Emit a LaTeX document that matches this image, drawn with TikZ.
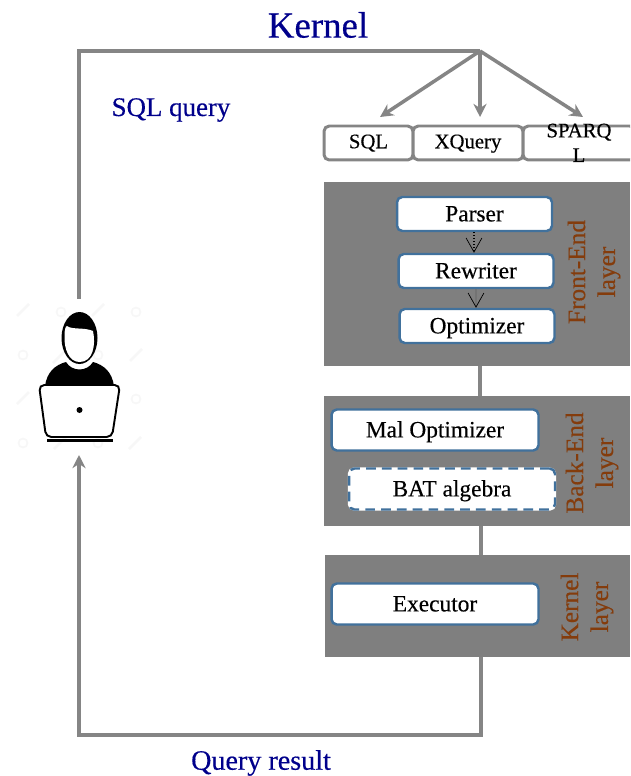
\documentclass[tikz,border=0pt]{standalone}
\usepackage{fontspec}
\setmainfont{Liberation Serif}[FakeBold=0.35]
\usetikzlibrary{arrows.meta}
\definecolor{layergray}{HTML}{7F7F7F}
\definecolor{linkgray}{HTML}{858585}
\definecolor{boxblue}{HTML}{41719C}
\definecolor{titleblue}{HTML}{00008B}
\definecolor{layerbrown}{HTML}{843C0C}
\tikzset{
    link/.style={draw=linkgray, line width=2pt},
    linkarrow/.style={link, -{Stealth[length=7.5pt,width=7.5pt]}},
    thinarrow/.style={-{Straight Barb[length=8pt,width=9pt,line width=0.4pt,color=black]}, line width=0.7pt},
    langbox/.style={draw=linkgray, line width=1.7pt, rounded corners=3pt, fill=white, minimum height=0.68cm, inner sep=0pt, text height=8pt, text depth=2pt, font=\fontsize{11.8}{14}\selectfont},
    stagebox/.style={draw=boxblue, line width=1.4pt, rounded corners=3pt, fill=white, minimum height=0.68cm, inner sep=0pt, text height=9pt, text depth=0.6pt, font=\fontsize{13.3}{15}\selectfont},
    layerbox/.style={fill=layergray, inner sep=0pt},
    layername/.style={text=layerbrown, rotate=90, align=center, inner sep=0pt, font=\fontsize{14.4}{17}\selectfont},
    titletext/.style={text=titleblue, inner sep=0pt},
    watermark/.style={draw=black!3, line width=1.5pt}
}
\begin{document}
\begin{tikzpicture}[x=0.02cm,y=-0.02cm]
    \path[use as bounding box, clip] (0,0) rectangle (630,776);

    % points of the outer loop
    \coordinate (branch) at (480,51);
    \coordinate (topLeft) at (79,51);
    \coordinate (userTop) at (79,299);
    \coordinate (userBottom) at (79,455);
    \coordinate (bottomLeft) at (79,735);
    \coordinate (bottomRight) at (481,735);
    \coordinate (sqlTip) at (380,117);
    \coordinate (xqueryTip) at (480,117);
    \coordinate (sparqlTip) at (583,117);

    % layers
    \node[layerbox, minimum width=6.12cm, minimum height=3.68cm] (frontLayer) at (477,274) {};
    \node[layerbox, minimum width=6.12cm, minimum height=2.6cm] (backLayer) at (477,461) {};
    \node[layerbox, minimum width=6.1cm, minimum height=2.04cm] (kernelLayer) at (477.5,606) {};

    % links between layers
    \draw[link] (frontLayer.south -| branch) -- (backLayer.north -| branch);
    \draw[link] (backLayer.south -| bottomRight) -- (kernelLayer.north -| bottomRight);

    % outer loop
    \draw[link] (userTop) -- (topLeft) -- (branch);
    \draw[linkarrow] (kernelLayer.south -| bottomRight) -- (bottomRight) -- (bottomLeft) -- (userBottom);
    \draw[linkarrow] (branch) -- (sqlTip);
    \draw[linkarrow] (branch) -- (xqueryTip);
    \draw[linkarrow] (branch) -- (sparqlTip);

    % languages
    \node[langbox, minimum width=1.78cm] (sql) at (368.5,143) {SQL};
    \node[langbox, minimum width=2.2cm] (xquery) at (468,143) {XQuery};
    \node[langbox, minimum width=2.24cm] (sparql) at (579,143) {\smash{\raisebox{-1pt}{\begin{tabular}{@{}c@{}}SPARQ\\L\end{tabular}}}};

    % front-end
    \node[stagebox, minimum width=3.1cm] (parser) at (474.5,214) {Parser};
    \node[stagebox, minimum width=3.1cm] (rewriter) at (476,271) {Rewriter};
    \node[stagebox, minimum width=3.1cm] (optimizer) at (477,326) {Optimizer};
    \draw[thinarrow, densely dotted, draw=black] (parser.south -| 474,0) -- (rewriter.north -| 474,0);
    \draw[thinarrow, draw=black!55] (rewriter.south -| 476,0) -- (optimizer.north -| 476,0);
    \node[layername] (frontName) at (594,272) {Front-End\\layer};

    % back-end
    \node[stagebox, minimum width=4.14cm, minimum height=0.82cm] (malOptimizer) at (435,430) {Mal Optimizer};
    \node[stagebox, preaction={draw=white, solid}, dash pattern=on 5.5pt off 3.5pt, minimum width=4.12cm, minimum height=0.82cm] (batAlgebra) at (452,489) {BAT algebra};
    \node[layername] (backName) at (592,463) {Back-End\\layer};

    % kernel
    \node[stagebox, minimum width=4.14cm, minimum height=0.82cm] (executor) at (435,604) {Executor};
    \node[layername] (kernelName) at (587,607) {Kernel\\layer};

    % titles
    \node[titletext, font=\fontsize{21}{24}\selectfont] (kernelTitle) at (318,25) {Kernel};
    \node[titletext, font=\fontsize{15.3}{18}\selectfont] (sqlQuery) at (171,110) {SQL query};
    \node[titletext, font=\fontsize{16}{19}\selectfont] (queryResult) at (261,763) {Query result};

    % watermark behind the user
    \foreach \x/\y in {23/310, 98/310, 23/398, 98/398, 59/357, 136/355, 135/443, 60/443} {
        \draw[watermark] (\x-6,\y+6) -- (\x+6,\y-6);
    }
    \foreach \x/\y in {61/312, 136/312, 23/355, 98/355, 61/399, 136/399, 23/443, 98/443} {
        \draw[watermark, line width=1pt] (\x,\y) circle (4.5);
    }

    % user: head
    \fill[black] (79.5,338) ellipse [x radius=18, y radius=26];
    \fill[white] (64.5,336) .. controls (64.5,330) and (65.5,326) .. (67,326)
        .. controls (72,330) and (84,327) .. (93,331)
        .. controls (96,345) and (93,362) .. (79.5,362)
        .. controls (69,362) and (64,349) .. (64.5,336) -- cycle;
    % user: shoulders
    \fill[black] (45,386) .. controls (47,372) and (55,365) .. (66,362)
        .. controls (72,372) and (87,372) .. (93,362)
        .. controls (104,365) and (112,372) .. (114,386) -- cycle;
    % user: laptop
    \draw[black, line width=1.1pt, fill=white, rounded corners=3pt]
        (39,385) -- (120,385) -- (112,437) -- (46,437) -- cycle;
    \fill[black] (79.5,410) circle (3);
    \fill[black] (47,439) rectangle (113,442);
\end{tikzpicture}
\end{document}
